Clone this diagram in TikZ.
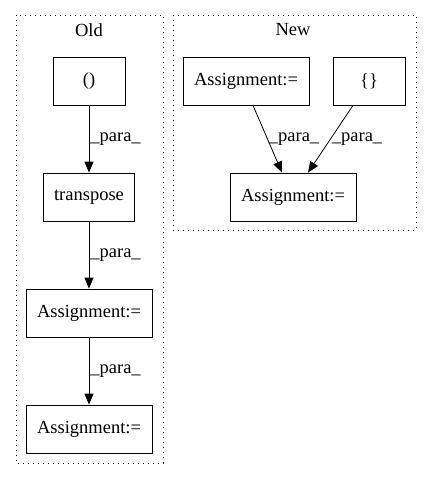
\documentclass[tikz,border=0pt]{standalone}
\usepackage{fontspec}
\setmainfont{Liberation Serif}
\usetikzlibrary{arrows.meta,positioning}

\begin{document}
\begin{tikzpicture}[x=1pt,y=1pt,node distance=116pt,on grid,
    >={Triangle[length=11pt,width=9pt]},
    font=\fontsize{18.5}{21}\selectfont,
    box/.style={draw,thick,minimum height=48pt,inner sep=0pt},
    cluster/.style={draw,line width=1pt,dash pattern=on 1pt off 4pt},
    lbl/.style={right,inner sep=1pt}]

   \useasboundingbox (0,0) rectangle (432,-480);

   % clusters
   \draw[cluster] (16,-15) rectangle (163,-463);
   \draw[cluster] (173,-15) rectangle (416,-230);
   \node (t_old) at (89,-30) {Old};
   \node (t_new) at (293,-30) {New};

   % old
   \node[box,minimum width=72pt] (o_1) at (89,-81) {()};
   \node[box,minimum width=91pt] (o_2) [below =of o_1] {transpose};
   \node[box,minimum width=126pt] (o_3) [below =of o_2] {Assignment:=};
   \node[box,minimum width=126pt] (o_4) [below =of o_3] {Assignment:=};

   % new
   \node[box,minimum width=126pt] (n_1) at (246,-81) {Assignment:=};
   \node[box,minimum width=72pt] (n_2) at (369,-81) {\{\}};
   \node[box,minimum width=126pt] (n_3) at (293,-197) {Assignment:=};

    \path[thick,every edge/.append style={->}]
    (o_1) edge node [lbl] {\_para\_} (o_2)
    (o_2) edge node [lbl] {\_para\_} (o_3)
    (o_3) edge node [lbl] {\_para\_} (o_4)
    ([xshift=7pt]n_1.south) edge node [lbl] {\_para\_} ([xshift=-11pt]n_3.north)
    ([xshift=-16pt]n_2.south) edge node [lbl] {\_para\_} ([xshift=15pt]n_3.north);

\end{tikzpicture}
\end{document}
